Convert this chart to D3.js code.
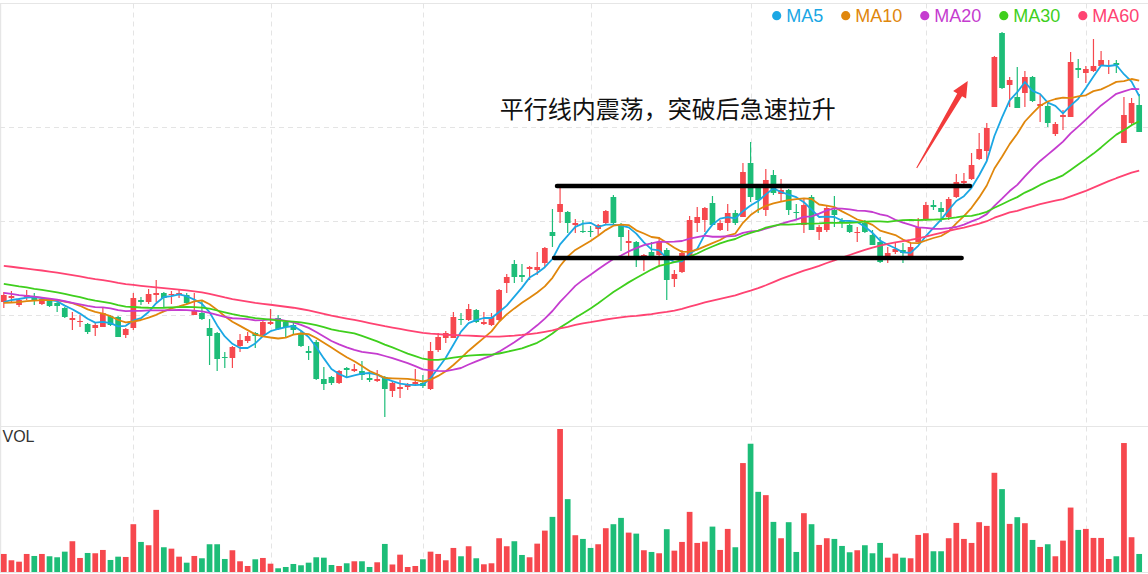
<!DOCTYPE html>
<html><head><meta charset="utf-8">
<script src="https://cdn.jsdelivr.net/npm/d3@7"></script>
<style>html,body{margin:0;padding:0;background:#fff;overflow:hidden}</style>
</head><body><svg id="c" width="1148" height="574"></svg>
<script>
// ---- data (price units) ----
const open = [19.8,20.2,19.5,20.3,20.3,19.6,20.1,19.7,19.2,18.0,17.8,17.6,17.2,17.3,18.4,18.3,16.5,17.2,20.0,19.8,
20.5,20.7,20.5,20.6,20.5,18.5,18.7,17.2,16.7,14.3,14.2,15.4,15.9,16.7,16.5,17.6,18.2,17.8,17.5,16.7,
14.9,15.8,12.1,12.3,11.7,13.2,12.9,12.9,12.2,11.9,12.3,10.9,11.1,11.3,11.6,11.7,11.1,15.0,16.2,16.2,
18.1,18.0,19.0,17.6,17.5,18.0,21.7,23.6,22.5,23.1,23.0,23.7,26.8,28.8,28.8,27.5,26.9,26.9,27.1,27.7,
30.3,27.5,25.7,25.8,24.3,24.8,24.5,25.0,22.1,22.8,24.3,27.7,28.0,29.7,27.0,27.7,28.7,28.3,33.7,31.2,
29.0,32.5,30.6,31.0,28.8,27.5,30.3,26.8,27.0,29.0,27.9,27.5,26.7,27.7,26.5,25.8,24.3,24.8,25.0,24.3,
25.8,28.0,29.5,29.2,28.3,30.3,31.7,32.1,34.1,34.9,39.3,46.7,41.5,40.3,40.7,42.3,39.4,39.4,36.6,38.3,
38.3,43.2,42.7,42.9,43.4,43.4,43.7,35.7,37.7,39.5];
const close = [20.5,20.4,20.0,20.5,20.0,20.1,19.4,19.4,18.3,18.2,17.9,16.8,17.5,18.7,17.5,16.3,17.1,20.2,19.8,20.6,
20.7,20.2,20.6,20.7,19.7,19.0,18.1,16.4,14.1,14.2,15.3,16.0,16.4,16.4,17.8,17.8,17.1,17.3,17.0,15.4,
14.7,12.1,11.6,11.7,12.9,13.0,13.1,12.5,12.0,12.1,11.1,11.7,11.3,11.5,11.8,11.4,14.9,16.3,16.7,18.3,
18.0,19.1,17.8,17.8,18.3,21.0,22.3,22.3,22.3,23.3,23.3,25.2,26.4,29.6,27.7,27.7,26.8,26.8,27.5,28.9,
27.7,26.3,25.9,24.4,24.5,24.2,25.8,22.0,22.6,24.7,28.0,28.3,29.2,27.5,27.7,28.7,27.7,32.8,30.3,30.0,
32.0,30.7,31.0,29.0,28.7,29.5,27.0,27.3,29.2,28.5,27.7,26.8,26.8,26.8,25.5,23.8,24.7,25.1,24.7,25.3,
27.3,29.5,29.3,28.8,30.1,31.8,31.9,33.5,35.1,37.2,44.3,41.2,42.0,39.2,42.3,39.9,39.6,37.7,37.6,38.5,
43.8,43.0,43.1,43.4,44.0,43.5,43.5,38.5,39.7,36.8];
const high = [20.8,20.9,20.2,21.0,20.7,20.3,20.2,19.8,19.3,18.8,18.5,17.7,17.7,19.2,18.5,18.4,17.2,20.7,20.3,21.1,
22.0,20.8,20.9,21.1,20.7,20.7,20.0,18.1,16.8,14.8,15.4,16.6,16.8,16.8,17.9,19.1,18.5,18.0,17.8,16.9,
15.4,16.0,13.3,12.4,13.0,13.3,13.6,13.9,12.6,13.0,12.4,11.9,12.0,11.7,13.1,12.5,15.8,16.7,16.9,18.8,
18.7,19.6,19.1,18.8,18.7,21.1,22.6,24.0,23.6,23.4,24.8,25.3,29.1,31.3,28.9,28.1,28.0,27.4,27.6,29.0,
30.5,27.7,27.0,25.9,24.6,25.8,26.3,25.2,23.0,25.0,28.4,29.3,29.3,30.4,28.0,29.6,29.0,33.7,35.8,31.5,
33.1,33.0,32.1,31.1,29.6,30.2,30.5,27.5,29.4,30.4,28.2,27.6,27.3,28.0,27.0,26.3,25.3,25.7,25.7,25.7,
28.2,29.8,30.0,29.8,30.3,32.6,32.7,34.7,36.7,37.7,44.4,46.8,42.3,43.3,42.9,42.4,40.5,39.8,37.8,39.0,
44.8,44.1,43.4,46.1,44.9,44.0,44.0,40.3,40.2,40.6];
const low = [19.2,19.7,19.3,20.0,19.5,19.5,19.3,18.8,18.2,17.0,17.3,16.6,16.4,17.3,17.4,16.3,16.2,17.0,19.5,19.6,
19.8,19.3,19.6,20.2,19.6,18.5,18.0,13.5,12.9,13.2,13.2,14.8,15.7,15.2,16.3,17.5,17.0,16.3,16.6,15.3,
14.0,12.0,11.0,11.5,11.6,12.2,12.8,12.0,11.8,11.8,8.3,10.3,10.2,11.0,11.5,11.2,11.0,14.8,15.7,16.2,
17.5,17.9,17.7,17.5,17.4,17.9,20.7,21.7,21.8,22.0,22.5,23.3,25.3,27.7,26.7,26.7,26.7,26.3,26.5,27.5,
27.5,24.9,24.2,23.3,22.9,24.2,23.3,20.0,21.3,22.7,24.2,26.8,26.8,27.5,26.9,26.9,27.5,28.3,29.8,28.7,
28.4,30.5,29.8,28.5,28.0,26.7,27.0,26.0,26.8,27.3,27.2,26.7,25.8,26.7,25.5,23.7,23.7,24.6,23.7,24.2,
25.8,27.9,29.0,27.8,28.0,30.2,31.3,32.0,34.0,34.0,39.3,41.1,39.3,39.2,39.3,39.8,37.8,37.3,36.4,37.0,
38.3,42.2,41.7,42.8,43.4,42.6,42.7,35.7,37.5,36.8];
const volume = [18,11.7,10.3,18,16,18,15.7,14.7,20.3,30.7,14,19,18.7,22,12,15.3,15,47.7,30,26.7,
62,24.7,23.3,15.3,9.3,16,13.7,27.7,27.7,13,21.7,10.7,6,12.7,14,8.3,3.7,5,8,6.7,
9.3,14.7,14.3,7,6,8.7,10.7,10.7,5,9.7,28,7.5,17.3,5,6,12.7,20.3,18,11.7,24,
15.7,25.7,13.7,7.7,8.7,33.7,25.7,30.7,17,14.7,28.3,41.3,55,142.7,72.7,36.7,33,24,27.7,43.7,
47.7,54,39.3,38.3,21.7,20,18.7,42.7,21.3,30,60,29,30.3,45.3,22,43,24.7,108.7,128,80,
76.7,50,33.7,49.7,20,58.7,47.7,27,33.7,33,26,19.7,21.7,26.7,18.7,29,14.3,18.3,14.3,13.7,
37,38.7,20.7,20.7,33.7,49,33,29,49.7,46,99,82.7,48,54.7,48.7,32,25,27.7,15.7,31.3,
64.3,42,43,34,34,13,15.7,128.7,34.7,18];
// closes of the sessions before the visible window (needed for the moving averages)
const priorClose = [25.8,26.1,25.9,25.5,25.7,26.0,25.6,25.3,25.4,25.8,25.5,25.1,24.9,25.2,25.4,25.0,24.8,25.1,25.3,24.9,
24.7,24.9,25.2,25.0,24.8,24.6,24.9,25.1,24.7,24.5,
24.1,23.8,23.6,23.9,23.4,23.1,23.3,22.9,23.0,22.9,
22.5,22.2,22.0,21.8,21.9,21.5,21.6,21.3,21.4,20.8,
20.1,19.7,19.5,19.4,19.6,19.3,19.5,19.8,19.8];
const maPeriods = [5, 10, 20, 30, 60];
const maNames = ["MA5", "MA10", "MA20", "MA30", "MA60"];
const gridIndex = [17, 35, 55, 77, 98, 121, 142];
const gridPrices = [18.5, 27.9, 37.3];
const channelLines = [{from: 72.6, to: 126.8, price: 31.4}, {from: 72.2, to: 125.7, price: 24.2}];
const arrowData = {fromIdx: 119.8, fromPrice: 33.2, toIdx: 126.5, toPrice: 41.9};
const note = {idx: 65.1, price: 39.25, text: "平行线内震荡，突破后急速拉升"};
const volLabel = "VOL";

// ---- styles ----
const RED = "#f6484e", GREEN = "#1dbd78";
const maColors = ["#1ba7e4", "#e0870c", "#c53ccf", "#3fcf1d", "#ff4372"];

const W = 1148, H = 574;
const svg = d3.select("#c");
const N = close.length;

const x = d3.scaleBand().domain(d3.range(N)).range([0, 1143]).paddingInner(0.25).paddingOuter(0.125);
const bw = x.bandwidth();
const xi = d3.scaleLinear().domain([0, N - 1]).range([x(0) + bw / 2, x(N - 1) + bw / 2]);
const y = d3.scaleLinear().domain([7.5, 50]).range([425, 0]);
const mainTop = 3.5, mainBottom = 426.5, volBottom = 572;
const yv = d3.scaleLinear().domain([0, d3.max(volume)]).range([volBottom, 429]);

// frame
const frame = svg.append("g").attr("stroke", "#e6e6e6").attr("stroke-width", 1.2);
frame.append("line").attr("x1", 0).attr("x2", W).attr("y1", mainTop).attr("y2", mainTop);
frame.append("line").attr("x1", 0).attr("x2", W).attr("y1", mainBottom).attr("y2", mainBottom);
frame.append("line").attr("x1", 0).attr("x2", W).attr("y1", volBottom + 0.5).attr("y2", volBottom + 0.5);
frame.append("line").attr("x1", 0.6).attr("x2", 0.6).attr("y1", mainTop).attr("y2", volBottom);

// grid
const grid = svg.append("g").attr("stroke", "#e4e4e4").attr("stroke-width", 1).attr("stroke-dasharray", "5,4");
grid.selectAll("line.v").data(gridIndex).join("line").attr("class", "v")
  .attr("x1", d => Math.round(x(d) + bw / 2) + 0.5).attr("x2", d => Math.round(x(d) + bw / 2) + 0.5)
  .attr("y1", mainTop).attr("y2", volBottom);
grid.selectAll("line.h").data(gridPrices).join("line").attr("class", "h")
  .attr("x1", 0).attr("x2", W).attr("y1", d => Math.round(y(d)) + 0.5).attr("y2", d => Math.round(y(d)) + 0.5);

const idx = d3.range(N);
const col = i => close[i] > open[i] ? RED : GREEN;

// volume
svg.append("g").selectAll("rect").data(idx).join("rect")
  .attr("x", i => x(i)).attr("width", bw)
  .attr("y", i => yv(volume[i])).attr("height", i => volBottom - yv(volume[i]))
  .attr("fill", col);

svg.append("text").attr("x", 2.5).attr("y", 441.5).text(volLabel)
  .attr("font-family", "Liberation Sans, Arial, sans-serif").attr("font-size", 16).attr("fill", "#333");

// candles
const cg = svg.append("g");
cg.selectAll("line").data(idx).join("line")
  .attr("x1", i => x(i) + bw / 2).attr("x2", i => x(i) + bw / 2)
  .attr("y1", i => y(high[i])).attr("y2", i => y(low[i]))
  .attr("stroke", col).attr("stroke-width", 1.2);
cg.selectAll("rect").data(idx).join("rect")
  .attr("x", i => x(i)).attr("width", bw)
  .attr("y", i => y(Math.max(open[i], close[i])))
  .attr("height", i => Math.max(1, Math.abs(y(open[i]) - y(close[i]))))
  .attr("fill", col);

// moving averages
const allClose = priorClose.concat(close);
const P = priorClose.length;
maPeriods.forEach((p, k) => {
  const vals = idx.map(i => d3.mean(allClose.slice(P + i - p + 1, P + i + 1)));
  const line = d3.line().x((d, i) => x(i) + bw / 2).y(d => y(d));
  svg.append("path").attr("d", line(vals)).attr("fill", "none")
    .attr("stroke", maColors[k]).attr("stroke-width", 1.8).attr("stroke-linejoin", "round");
});

// channel lines
svg.append("g").selectAll("line").data(channelLines).join("line")
  .attr("x1", d => xi(d.from)).attr("x2", d => xi(d.to))
  .attr("y1", d => y(d.price)).attr("y2", d => y(d.price))
  .attr("stroke", "#000").attr("stroke-width", 4.5).attr("stroke-linecap", "round");

// arrow
{
  const T = [xi(arrowData.fromIdx), y(arrowData.fromPrice)];
  const Pt = [xi(arrowData.toIdx), y(arrowData.toPrice)];
  const dx = Pt[0] - T[0], dy = Pt[1] - T[1], L = Math.hypot(dx, dy);
  const u = [dx / L, dy / L], n = [-u[1], u[0]];
  const hl = 16, hw = 7.5, sw = 2.8, tw = 0.5;
  const B = [Pt[0] - u[0] * hl, Pt[1] - u[1] * hl];
  const pt = (b, s) => [b[0] + n[0] * s, b[1] + n[1] * s];
  const pts = [pt(T, tw), pt(B, sw), pt(B, hw), Pt, pt(B, -hw), pt(B, -sw), pt(T, -tw)];
  svg.append("path").attr("d", "M" + pts.map(p => p.join(",")).join("L") + "Z").attr("fill", "#f23b3b");
}

// annotation text
svg.append("text").attr("x", xi(note.idx)).attr("y", y(note.price)).attr("dominant-baseline", "central")
  .attr("font-family", "Noto Sans CJK SC, sans-serif").attr("font-size", 24).attr("fill", "#111")
  .text(note.text);

// legend
{
  const lg = svg.append("g").attr("font-family", "Liberation Sans, Arial, sans-serif").attr("font-size", 18);
  let cx = 776.7;
  maNames.forEach((name, k) => {
    lg.append("circle").attr("cx", cx).attr("cy", 15.7).attr("r", 4.6).attr("fill", maColors[k]);
    const t = lg.append("text").attr("x", cx + 9.5).attr("y", 22.3).attr("fill", maColors[k]).text(name);
    const w = t.node().getComputedTextLength();
    cx = cx + 9.5 + w + 22.5;
  });
}
</script></body></html>
